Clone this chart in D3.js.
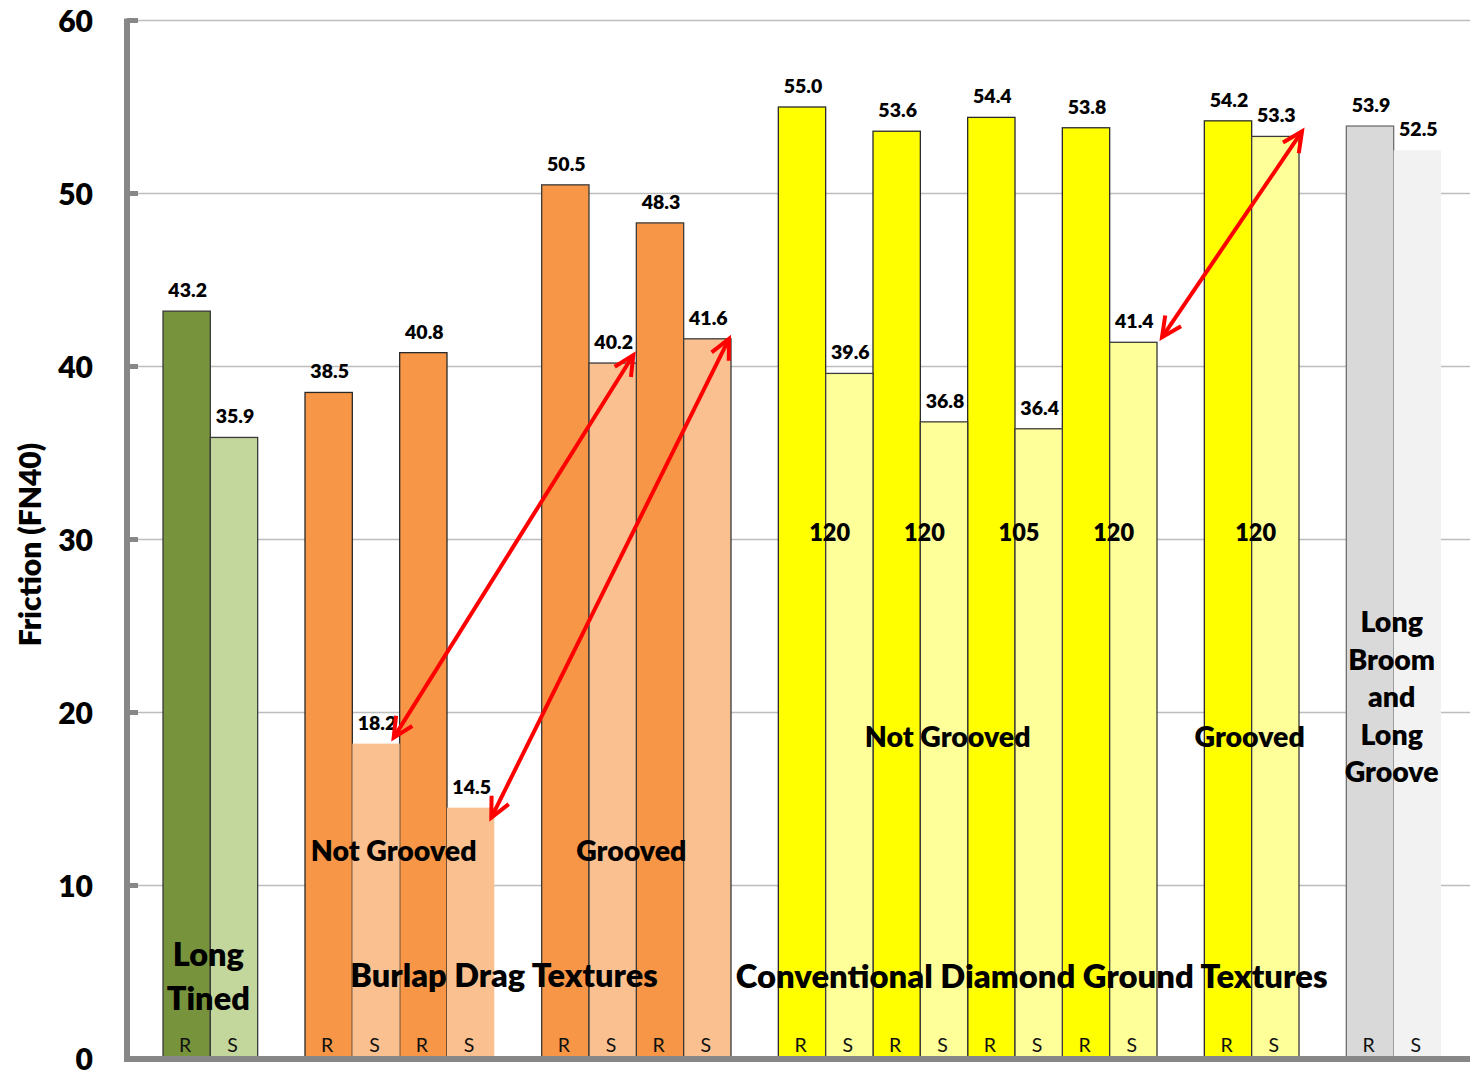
<!DOCTYPE html>
<html><head><meta charset="utf-8">
<script src="https://cdn.jsdelivr.net/npm/d3@7"></script>
<style>
html,body{margin:0;padding:0;background:#fff;}
svg{display:block;font-family:Lato,"Open Sans",sans-serif;}
</style></head>
<body>
<svg id="chart" width="1470" height="1071"></svg>
<script>
// ---------- data ----------
const groupNames = ["Long Tined","Burlap Not Grooved","Burlap Grooved","Diamond Not Grooved","Diamond Grooved","Long Broom and Long Groove"];
const barGroup = [0,0, 1,1,1,1, 2,2,2,2, 3,3,3,3,3,3,3,3, 4,4, 5,5];
const surface  = ["R","S","R","S","R","S","R","S","R","S","R","S","R","S","R","S","R","S","R","S","R","S"];
const friction = [43.2,35.9, 38.5,18.2,40.8,14.5, 50.5,40.2,48.3,41.6, 55.0,39.6,53.6,36.8,54.4,36.4,53.8,41.4, 54.2,53.3, 53.9,52.5];
const yTicks = [0,10,20,30,40,50,60];
const depthLabels = ["120","120","105","120","120"];
const depthBars = [10,12,14,16,18];
const arrowPairs = [[3,7],[5,9],[17,19]];

// ---------- styling ----------
const fillR = ["#77933C","#F79646","#F79646","#FFFF00","#FFFF00","#D9D9D9"];
const fillS = ["#C3D69B","#FAC090","#FAC090","#FFFF99","#FFFF99","#F2F2F2"];
const strokeR = ["#3a3a3a","#2a2a2a","#3a3a3a","#2a2a2a","#2a2a2a","#6f6f6f"];
const strokeS = ["#3a3a3a",null,"#3a3a3a","#3a3a3a","#3a3a3a",null];
const BOLD = 800;

const svg = d3.select("#chart");
const W = 1470, H = 1071;
const slots = friction.map((d,i)=>i+barGroup[i]);
const nSlots = d3.max(slots)+1;

const x = d3.scaleBand().domain(d3.range(nSlots)).range([163,1441]).padding(0);
const y = d3.scaleLinear().domain([0,60]).range([1058.5,20.5]);

// gridlines
svg.append("g").selectAll("line").data(yTicks.filter(t=>t>0)).join("line")
  .attr("x1",129).attr("x2",W).attr("y1",d=>y(d)).attr("y2",d=>y(d))
  .attr("stroke","#BDBDBD").attr("stroke-width",1.6);

// bars: draw R first then S
const bars = friction.map((v,i)=>({v,i,slot:slots[i],g:barGroup[i],s:surface[i]}));
const barG = svg.append("g");
function drawBars(arr){
  barG.selectAll(null).data(arr).join("rect")
    .attr("x",d=>x(d.slot)).attr("width",x.bandwidth())
    .attr("y",d=>y(d.v)).attr("height",d=>y(0)-y(d.v))
    .attr("fill",d=>d.s==="R"?fillR[d.g]:fillS[d.g])
    .attr("stroke",d=>{const c=d.s==="R"?strokeR[d.g]:strokeS[d.g];return c||"none";})
    .attr("stroke-width",1.3);
}
drawBars(bars.filter(d=>d.s==="R"));
drawBars(bars.filter(d=>d.s==="S"));

// y axis
const yAxis = d3.axisLeft(y).tickValues(yTicks).tickSize(0).tickPadding(0).tickFormat(d3.format("d"));
const ya = svg.append("g").attr("transform","translate(127,0)").call(yAxis);
ya.select(".domain").remove();
ya.selectAll("text").attr("x",-34).attr("dy","0.36em").attr("font-size",30).attr("font-weight",BOLD).attr("fill","#000").attr("font-family","Lato");
// tick stubs
svg.append("g").selectAll("line").data(yTicks).join("line")
  .attr("x1",127).attr("x2",138).attr("y1",d=>y(d)).attr("y2",d=>y(d))
  .attr("stroke","#878787").attr("stroke-width",5);
svg.append("line").attr("x1",127).attr("x2",127).attr("y1",y(60)-2).attr("y2",y(0)+3)
  .attr("stroke","#878787").attr("stroke-width",6);
svg.append("line").attr("x1",124).attr("x2",W).attr("y1",y(0)+0.5).attr("y2",y(0)+0.5)
  .attr("stroke","#878787").attr("stroke-width",6);

// y title
svg.append("text").attr("transform",`translate(41,${(y(60)+y(0))/2+5}) rotate(-90)`)
  .attr("text-anchor","middle").attr("font-size",30).attr("font-weight",BOLD).text("Friction (FN40)");

// value labels
svg.append("g").selectAll("text").data(bars).join("text")
  .attr("x",d=>x(d.slot)+x.bandwidth()/2+1).attr("y",d=>y(d.v)-14)
  .attr("text-anchor","middle").attr("font-size",19.5).attr("font-weight",BOLD)
  .text(d=>d3.format(".1f")(d.v));

// R/S labels
svg.append("g").selectAll("text").data(bars).join("text")
  .attr("x",d=>x(d.slot)+x.bandwidth()/2-1.5).attr("y",1052)
  .attr("text-anchor","middle").attr("font-size",19.5).attr("fill","#111")
  .text(d=>d.s);

// depth labels
svg.append("g").selectAll("text").data(depthLabels).join("text")
  .attr("x",(d,k)=>x(slots[depthBars[k]])+x.bandwidth()+4).attr("y",y(30.4)+8)
  .attr("text-anchor","middle").attr("font-size",23.5).attr("font-weight",BOLD).text(d=>d);

// group extents
function groupExtent(gs){
  const idx = bars.filter(b=>gs.includes(b.g));
  return [x(d3.min(idx,b=>b.slot)), x(d3.max(idx,b=>b.slot))+x.bandwidth()];
}
function centerOf(gs){const e=groupExtent(gs);return (e[0]+e[1])/2;}

const labels = [
  {t:["Not Grooved"], gs:[1], dx:-6, v:12.0, fs:28.5},
  {t:["Grooved"], gs:[2], dx:-5, v:12.0, fs:28.5},
  {t:["Not Grooved"], gs:[3], dx:-20, v:18.6, fs:28.5},
  {t:["Grooved"], gs:[4], dx:-2, v:18.6, fs:28.5},
  {t:["Burlap Drag Textures"], gs:[1,2], dx:-14, v:4.8, fs:32.5},
  {t:["Conventional Diamond Ground Textures"], gs:[3,4], dx:-7, v:4.75, fs:32.8},
  {t:["Long","Tined"], gs:[0], dx:-2, v:4.78, fs:32.5, lh:44},
  {t:["Long","Broom","and","Long","Groove"], gs:[5], dx:-2, v:20.9, fs:28.5, lh:37.5}
];
labels.forEach(L=>{
  const cx = centerOf(L.gs)+L.dx;
  const n = L.t.length, lh = L.lh||0;
  const cy = y(L.v);
  const tx = svg.append("text").attr("text-anchor","middle").attr("font-size",L.fs).attr("font-weight",BOLD);
  L.t.forEach((line,k)=>{
    tx.append("tspan").attr("x",cx).attr("y",cy + (k-(n-1)/2)*lh).attr("dy","0.36em").text(line);
  });
});

// arrows (double-headed, connecting top-right corners of bars)
const arrowNudge = [[[-6,-6],[-3,-8]],[[-3,10],[-2,0]],[[5,-5],[3,-5]]];
const arrG = svg.append("g");
arrowPairs.forEach((p,k)=>{
  const a = bars[p[0]], b = bars[p[1]];
  const x1 = x(a.slot)+x.bandwidth()+arrowNudge[k][0][0], y1 = y(a.v)+arrowNudge[k][0][1];
  const x2 = x(b.slot)+x.bandwidth()+arrowNudge[k][1][0], y2 = y(b.v)+arrowNudge[k][1][1];
  arrG.append("line").attr("x1",x1).attr("y1",y1).attr("x2",x2).attr("y2",y2)
    .attr("stroke","#FF0000").attr("stroke-width",4);
  const head = (tx,ty,fx,fy)=>{
    const ang = Math.atan2(fy-ty, fx-tx), L=22, sp=0.45;
    const p1=[tx+L*Math.cos(ang+sp), ty+L*Math.sin(ang+sp)];
    const p2=[tx+L*Math.cos(ang-sp), ty+L*Math.sin(ang-sp)];
    arrG.append("path").attr("d",`M${p1}L${tx},${ty}L${p2}`)
      .attr("fill","none").attr("stroke","#FF0000").attr("stroke-width",4)
      .attr("stroke-linejoin","miter").attr("stroke-linecap","butt");
  };
  head(x1,y1,x2,y2); head(x2,y2,x1,y1);
});
</script>
</body></html>
